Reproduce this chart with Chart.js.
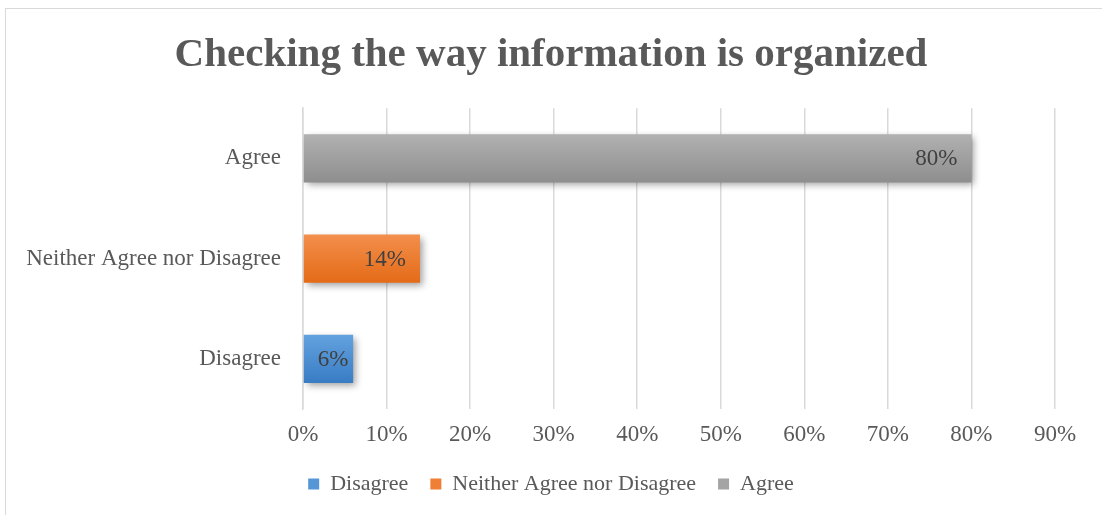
<!DOCTYPE html>
<html>
<head>
<meta charset="utf-8">
<script src="https://cdn.jsdelivr.net/npm/chart.js@4.4.1/dist/chart.umd.min.js"></script>
<style>
    html, body { margin: 0; padding: 0; background: #fff; overflow: hidden; }
    #frame {
        position: absolute; left: 5px; top: 8px;
        width: 1120px; height: 540px;
        border: 1.5px solid #d9d9d9;
    }
    #wrap { position: absolute; left: 0; top: 0; width: 1102px; height: 515px; }
</style>
</head>
<body>
<div id="frame"></div>
<div id="wrap"><canvas id="chartOrganizacao"></canvas></div>
<script>
/* ==========================
   DADOS
========================== */
const categorias = ["Disagree", "Neither Agree nor Disagree", "Agree"];
const percentuais = [6, 14, 80];
const ticksX = [0, 10, 20, 30, 40, 50, 60, 70, 80, 90];

// topo / base do degradê de cada barra
const coresTopo = ["#62a2df", "#f38f4c", "#b1b1b1"];
const coresBase = ["#3a7cc4", "#e46b17", "#8e8e8e"];
const coresLegenda = ["#5696d6", "#f07f36", "#a4a4a4"];

const FONTE = '"Liberation Serif", "Times New Roman", serif';
const TAM = 23;
const BAR_PCT = 0.48;

/* ==========================
   DEGRADÊ VERTICAL POR BARRA
========================== */
function barFill(i) {
    return (ctx) => {
        const chart = ctx.chart;
        if (ctx.type !== "data" || !chart.chartArea) return coresLegenda[i];
        const y = chart.scales.y;
        const band = (y.bottom - y.top) / categorias.length;
        const yc = y.getPixelForValue(ctx.dataIndex);
        const half = band * BAR_PCT / 2;
        const g = chart.ctx.createLinearGradient(0, yc - half, 0, yc + half);
        g.addColorStop(0, coresTopo[i]);
        g.addColorStop(1, coresBase[i]);
        return g;
    };
}

// uma série por categoria, para a legenda ter uma entrada por barra
const datasets = categorias.map((nome, i) => ({
    label: nome,
    data: categorias.map((_, j) => (j === i ? percentuais[i] : null)),
    backgroundColor: barFill(i),
    borderWidth: 0,
    grouped: false,
    categoryPercentage: 1,
    barPercentage: BAR_PCT
}));

/* ==========================
   SOMBRA DAS BARRAS
========================== */
const sombraBarras = {
    id: "sombraBarras",
    beforeDatasetsDraw(chart) {
        const c = chart.ctx;
        c.save();
        c.shadowColor = "rgba(0, 0, 0, 0.38)";
        c.shadowBlur = 7;
        c.shadowOffsetX = 3;
        c.shadowOffsetY = 3;
    },
    afterDatasetsDraw(chart) {
        chart.ctx.restore();
    }
};

/* ==========================
   RÓTULOS DENTRO DA BARRA
========================== */
const rotulosBarras = {
    id: "rotulosBarras",
    afterDatasetsDraw(chart) {
        const c = chart.ctx;
        c.save();
        c.font = TAM + "px " + FONTE;
        c.fillStyle = "#404040";
        c.textAlign = "right";
        c.textBaseline = "middle";
        chart.data.datasets.forEach((ds, i) => {
            const meta = chart.getDatasetMeta(i);
            meta.data.forEach((bar, j) => {
                const v = ds.data[j];
                if (v == null) return;
                const txt = v + "%";
                const w = c.measureText(txt).width;
                const largura = bar.x - bar.base;
                const folga = Math.min(14, (largura - w) / 4);
                c.fillText(txt, bar.x - folga, bar.y + 1);
            });
        });
        c.restore();
    }
};

/* ==========================
   CHART - BAR HORIZONTAL
========================== */
new Chart(document.getElementById("chartOrganizacao"), {
    type: "bar",
    data: { labels: categorias, datasets },
    plugins: [sombraBarras, rotulosBarras],
    options: {
        indexAxis: "y",
        responsive: true,
        maintainAspectRatio: false,
        animation: false,
        layout: { padding: { left: 10, right: 10, top: 0, bottom: 14 } },
        plugins: {
            title: {
                display: true,
                text: "Checking the way information is organized",
                color: "#595959",
                font: { family: FONTE, size: 41, weight: "bold" },
                padding: { top: 31, bottom: 28 }
            },
            legend: {
                position: "bottom",
                maxHeight: 50,
                labels: {
                    color: "#595959",
                    font: { family: FONTE, size: 22 },
                    boxWidth: 11,
                    boxHeight: 11,
                    padding: 22,
                    generateLabels: (chart) =>
                        Chart.defaults.plugins.legend.labels.generateLabels(chart).map((item, i) => ({
                            ...item,
                            fillStyle: coresLegenda[i],
                            lineWidth: 0
                        }))
                }
            },
            tooltip: { enabled: false }
        },
        scales: {
            x: {
                min: 0,
                max: 90,
                afterBuildTicks: (s) => { s.ticks = ticksX.map(v => ({ value: v })); },
                afterFit: (s) => { s.height = 42; },
                grid: { color: "#d9d9d9", lineWidth: 1.5, drawTicks: false },
                border: { display: false },
                ticks: {
                    color: "#595959",
                    font: { family: FONTE, size: TAM },
                    padding: 12,
                    callback: (v) => v + "%"
                }
            },
            y: {
                reverse: true,
                afterFit: (s) => { s.width = 293; },
                grid: { display: false, drawTicks: false },
                border: { display: true, color: "#d9d9d9", width: 1.5 },
                ticks: {
                    color: "#595959",
                    font: { family: FONTE, size: TAM },
                    padding: 22
                }
            },
            // margem à direita do gráfico (sem marcas)
            margemDir: {
                type: "category",
                position: "right",
                afterFit: (s) => { s.width = 37; },
                grid: { display: false, drawTicks: false },
                border: { display: false },
                ticks: { display: false }
            }
        }
    }
});
</script>
</body>
</html>
